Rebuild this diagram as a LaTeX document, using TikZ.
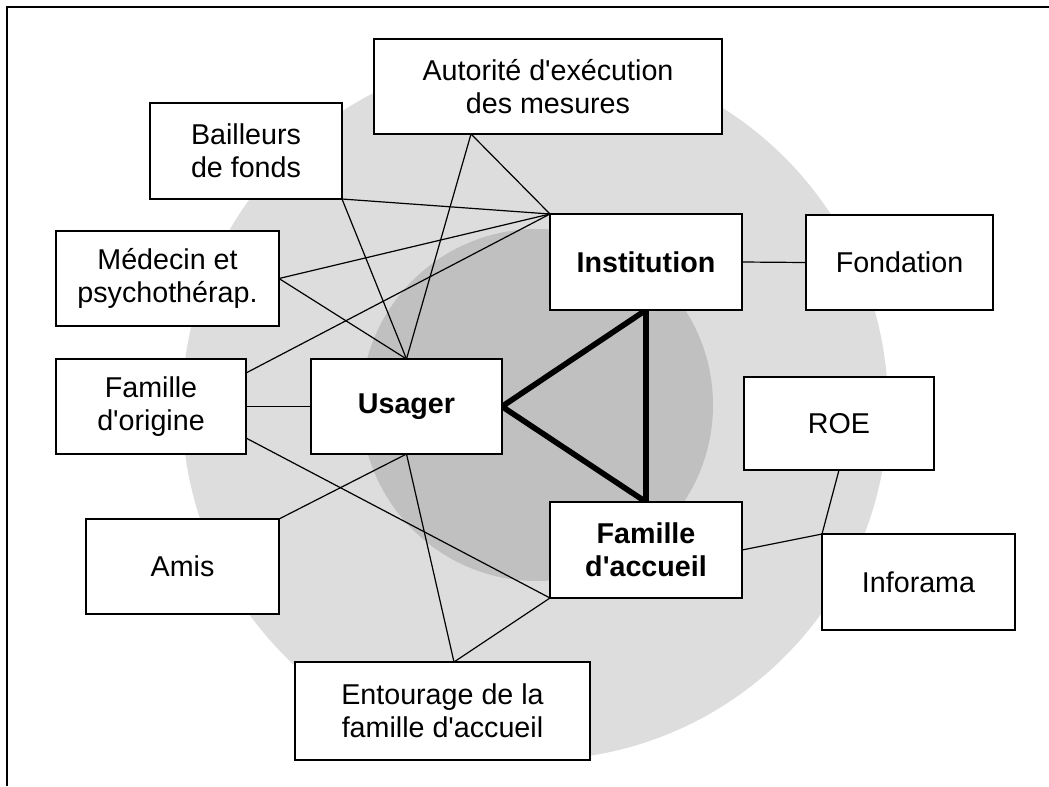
\documentclass[tikz,border=0pt]{standalone}
\usepackage{fontspec}
\setmainfont{Liberation Sans}
\usetikzlibrary{calc}
\definecolor{outerring}{HTML}{DDDDDD}
\definecolor{innerring}{HTML}{C0C0C0}
\pgfdeclarelayer{back}
\pgfdeclarelayer{mid}
\pgfsetlayers{back,mid,main}

% straight apostrophe
\newcommand\ap{\textquotesingle}

% box: name, style, left, top, right, bottom, text
\newcommand\boxat[7]{%
  \node[#2, minimum width={(#5-#3)*0.75pt}, minimum height={(#6-#4)*0.75pt}]
    (#1) at ({(#3+#5)/2},{(#4+#6)/2}) {#7};}

\begin{document}
\begin{tikzpicture}[x=0.75pt,y=-0.75pt,
  box/.style={draw=black, line width=1.1pt, fill=white, inner sep=0pt,
    outer sep=0pt, align=center, font=\fontsize{21.5}{25}\selectfont},
  keybox/.style={box, font=\fontsize{21.5}{25}\selectfont\bfseries},
  link/.style={draw=black, line width=0.9pt},
  triad/.style={draw=black, line width=4.2pt, line join=miter}]
\useasboundingbox (0,0) rectangle (1049,786);

% frame
\draw[line width=1.6pt] (7,786) -- (7,7) -- (1049,7);

% boxes
\boxat{aut}{box}{374}{39}{722}{134}{Autorité d\ap exécution\\des mesures}
\boxat{bail}{box}{150}{103}{342}{199}{Bailleurs\\de fonds}
\boxat{med}{box}{56}{231}{279}{326}{Médecin et\\psychothérap.}
\boxat{fo}{box}{56}{359}{246}{454}{Famille\\d\ap origine}
\boxat{usa}{keybox}{311}{359}{502}{454}{Usager}
\boxat{inst}{keybox}{550}{214}{742}{310}{Institution}
\boxat{fond}{box}{806}{215}{993}{310}{Fondation}
\boxat{roe}{box}{744}{377}{934}{470}{ROE}
\boxat{fa}{keybox}{550}{502}{742}{598}{Famille\\d\ap accueil}
\boxat{info}{box}{822}{534}{1015}{630}{Inforama}
\boxat{amis}{box}{86}{519}{279}{614}{Amis}
\boxat{ent}{box}{295}{662}{590}{760}{Entourage de la\\famille d\ap accueil}

% attachment points on box edges
\coordinate (autfoot) at (471,134);
\coordinate (foup) at (246,373);
\coordinate (folow) at (246,438);
\coordinate (enttop) at (454,662);

% shaded rings
\begin{pgfonlayer}{back}
  \fill[outerring] (535,407) circle[radius=353];
  \fill[innerring] (537,405) circle[radius=176];
\end{pgfonlayer}

% relations
\begin{pgfonlayer}{mid}
  \draw[link] (autfoot) -- (inst.north west);
  \draw[link] (autfoot) -- (usa.north);
  \draw[link] (bail.south east) -- (inst.north west);
  \draw[link] (bail.south east) -- (usa.north);
  \draw[link] (med.east) -- (inst.north west);
  \draw[link] (med.east) -- (usa.north);
  \draw[link] (foup) -- (inst.north west);
  \draw[link] (fo.east) -- (usa.west);
  \draw[link] (folow) -- (fa.south west);
  \draw[link] (amis.north east) -- (usa.south);
  \draw[link] (usa.south) -- (enttop);
  \draw[link] (enttop) -- (fa.south west);
  \draw[link] (inst.east) -- (fond.west);
  \draw[link] (fa.east) -- (info.north west);
  \draw[link] (roe.south) -- (info.north west);
  \draw[triad] (usa.east) -- (inst.south) -- (fa.north) -- cycle;
\end{pgfonlayer}
\end{tikzpicture}
\end{document}
